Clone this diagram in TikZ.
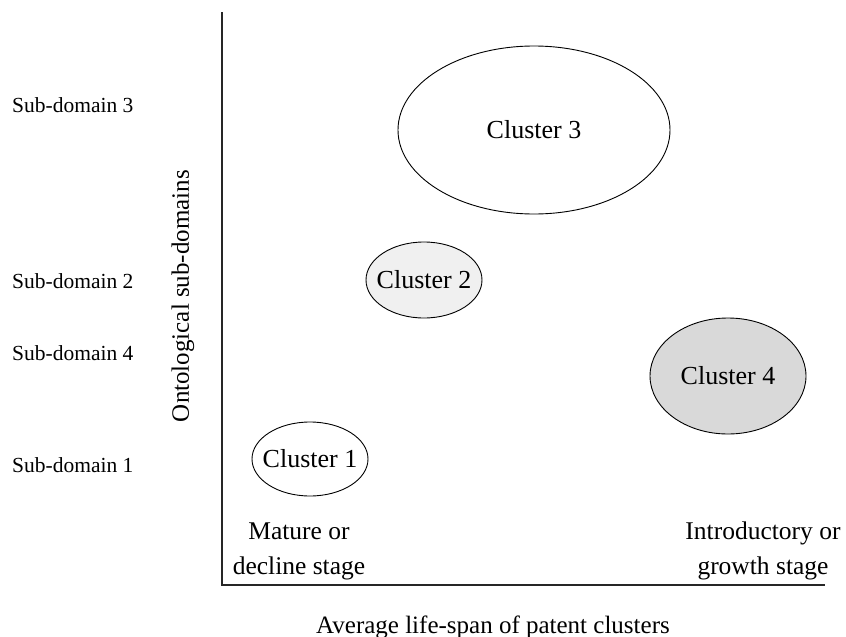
\documentclass[tikz,border=0pt]{standalone}
\usepackage{fontspec}
\setmainfont{Liberation Serif}
\usetikzlibrary{shapes.geometric}
\begin{document}
\begin{tikzpicture}[x=1pt,y=-1pt,
  axis/.style={line width=1.2pt,draw=black!85},
  cluster/.style={ellipse,draw=black,line width=0.9pt,inner xsep=-16pt,inner ysep=0pt,font=\fontsize{26}{30}\selectfont},
  rowlabel/.style={anchor=west,inner sep=0pt,font=\fontsize{21.5}{24}\selectfont},
  stage/.style={align=center,inner sep=0pt,font=\fontsize{25.5}{35}\selectfont},
  axislabel/.style={inner sep=0pt,font=\fontsize{25}{30}\selectfont}]
\useasboundingbox (0,0) rectangle (846,637);
% axes
\coordinate (top) at (222,12);
\coordinate (origin) at (222,585);
\coordinate (right) at (825,585);
\draw[axis] (top) -- (origin) -- (right);
% clusters
\node[cluster,fill=white,minimum width=272,minimum height=168] (c3) at (534,130) {Cluster 3};
\node[cluster,fill=black!6,minimum width=116,minimum height=76] (c2) at (424,280) {Cluster 2};
\node[cluster,fill=black!15,minimum width=156,minimum height=116] (c4) at (728,376) {Cluster 4};
\node[cluster,fill=white,minimum width=116,minimum height=74] (c1) at (310,459) {Cluster 1};
% sub-domain labels
\node[rowlabel] (s3) at (12,105) {Sub-domain 3};
\node[rowlabel] (s2) at (12,281) {Sub-domain 2};
\node[rowlabel] (s4) at (12,353) {Sub-domain 4};
\node[rowlabel] (s1) at (12,465) {Sub-domain 1};
\node[axislabel,rotate=90] (ylab) at (183,296) {Ontological sub-domains};
% stage labels
\node[stage] (mature) at (299,551) {Mature or\\decline stage};
\node[stage] (intro) at (763,551) {Introductory or\\growth stage};
\node[axislabel] (xlab) at (493,627) {Average life-span of patent clusters};
\end{tikzpicture}
\end{document}
